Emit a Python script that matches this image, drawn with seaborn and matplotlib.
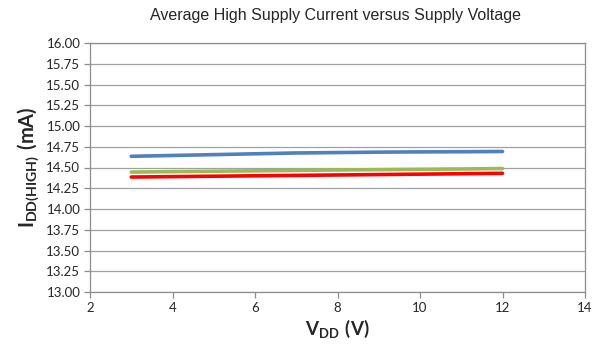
import matplotlib
matplotlib.use("Agg")
import matplotlib.pyplot as plt
import seaborn as sns
import pandas as pd

# supply voltage points and average high supply current per series (mA)
vdd = [3, 4, 5, 6, 7, 8, 9, 10, 11, 12]
blue = [14.635, 14.645, 14.655, 14.665, 14.675, 14.680, 14.685, 14.688, 14.690, 14.693]
green = [14.445, 14.450, 14.455, 14.460, 14.465, 14.470, 14.474, 14.478, 14.482, 14.487]
red = [14.385, 14.390, 14.395, 14.400, 14.405, 14.410, 14.415, 14.420, 14.425, 14.430]

x_ticks = [2, 4, 6, 8, 10, 12, 14]
y_ticks = [13.00 + 0.25 * i for i in range(13)]

sns.set_theme(style="white")
plt.rcParams['font.family'] = ['Lato', 'DejaVu Sans']
plt.rcParams['mathtext.fontset'] = 'custom'
plt.rcParams['mathtext.rm'] = 'Lato'
plt.rcParams['mathtext.bf'] = 'Lato:bold'

df = pd.DataFrame({'vdd': vdd * 3,
                   'idd': blue + green + red,
                   'series': ['blue'] * len(vdd) + ['green'] * len(vdd) + ['red'] * len(vdd)})

fig = plt.figure(figsize=(5.93, 3.52), dpi=100)
ax = fig.add_axes([90 / 593, 60 / 352, 495 / 593, 249 / 352])

sns.lineplot(data=df, x='vdd', y='idd', hue='series',
             palette={'blue': '#4f81bd', 'green': '#9bbb59', 'red': '#ff0000'},
             linewidth=2.6, legend=False, ax=ax)

ax.set_xlim(2, 14)
ax.set_ylim(13, 16)
ax.set_xticks(x_ticks)
ax.set_yticks(y_ticks)
ax.set_xticklabels([str(t) for t in x_ticks], fontsize=9.5)
ax.set_yticklabels([f"{t:.2f}" for t in y_ticks], fontsize=9.5)
ax.yaxis.grid(True, color='#a0a0a0', linewidth=0.9)
for s in ax.spines.values():
    s.set_color('#8c8c8c')
    s.set_linewidth(0.9)
ax.tick_params(axis='both', direction='out', length=4, width=0.9, color='#8c8c8c',
               left=True, bottom=True, pad=3)

ax.set_xlabel(r'$\mathbf{V_{DD}\ (V)}$', fontsize=13.5, labelpad=3)
ax.set_ylabel(r'$\mathbf{I_{DD(HIGH)}\ (mA)}$', fontsize=14.5, labelpad=4)
fig.text(0.565, 0.957, 'Average High Supply Current versus Supply Voltage',
         ha='center', va='center', fontsize=11.5, family='Liberation Sans')

fig.savefig('out.png', dpi=100)
